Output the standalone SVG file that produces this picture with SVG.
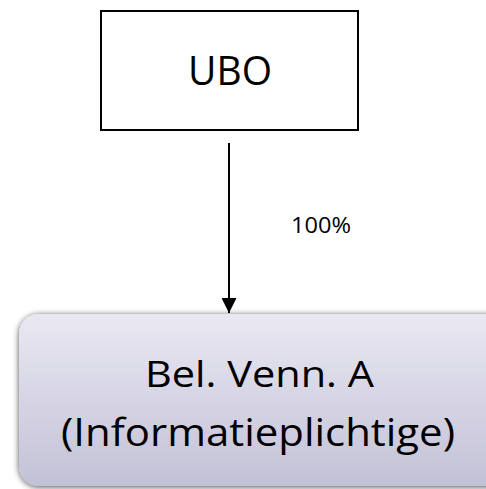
<svg xmlns="http://www.w3.org/2000/svg" width="486" height="489" viewBox="0 0 486 489">
<defs>
<linearGradient id="g" x1="0" y1="0" x2="0" y2="1">
<stop offset="0" stop-color="#e9e8f2"/>
<stop offset="1" stop-color="#c3c1d6"/>
</linearGradient>
<filter id="sh" x="-10%" y="-10%" width="120%" height="130%">
<feGaussianBlur in="SourceAlpha" stdDeviation="3"/>
<feOffset dx="0" dy="1"/>
<feComponentTransfer><feFuncA type="linear" slope="0.7"/></feComponentTransfer>
<feMerge><feMergeNode/><feMergeNode in="SourceGraphic"/></feMerge>
</filter>
<marker id="ah" viewBox="0 0 10 10" refX="10" refY="5" markerWidth="16" markerHeight="15" markerUnits="userSpaceOnUse" orient="auto">
<path d="M0,0 L10,5 L0,10 z" fill="#000"/>
</marker>
<style>
text{font-family:"Open Sans","Liberation Sans",sans-serif;fill:#000;text-anchor:middle}
</style>
</defs>
<rect width="486" height="489" fill="#fff"/>
<g id="ubo">
<rect x="101" y="11" width="257" height="119" fill="#fff" stroke="#000" stroke-width="2"/>
<text x="230" y="85" font-size="40.5" textLength="84" lengthAdjust="spacingAndGlyphs">UBO</text>
</g>
<g id="connectors">
<line x1="229" y1="143" x2="229" y2="313" stroke="#000" stroke-width="2" marker-end="url(#ah)"/>
<text x="321" y="233" font-size="22.5" textLength="60" lengthAdjust="spacingAndGlyphs">100%</text>
</g>
<g id="bel">
<rect x="19" y="314" width="490" height="172" rx="20" fill="url(#g)" filter="url(#sh)"/>
<text x="259.5" y="387" font-size="37" textLength="229" lengthAdjust="spacingAndGlyphs">Bel. Venn. A</text>
<text x="258" y="446" font-size="38" textLength="394" lengthAdjust="spacingAndGlyphs">(Informatieplichtige)</text>
</g>
</svg>
